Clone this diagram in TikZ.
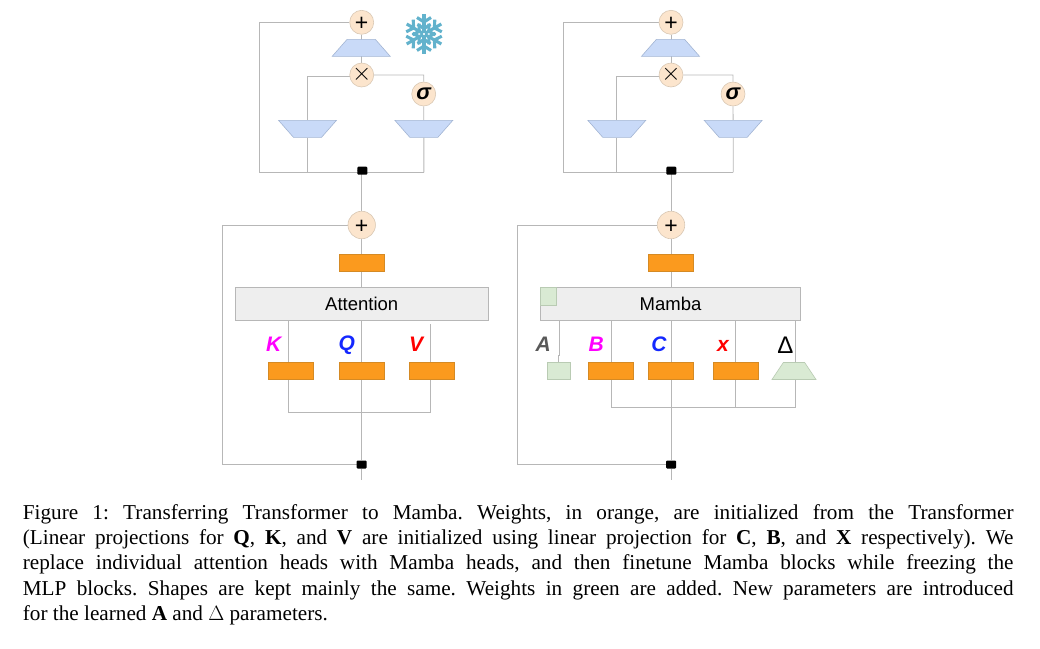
\documentclass[tikz,border=0pt]{standalone}
\usepackage{amsmath,amssymb}
\usepackage{fontspec}
\usepackage{xcolor}
\usetikzlibrary{shapes.geometric,backgrounds}
\setmainfont{Liberation Serif}
\newfontfamily\labelfont{Liberation Sans}
\newcommand{\opplus}{\raisebox{-8.1pt}{+}}
\newcommand{\optimes}{\raisebox{-5.7pt}{$\times$}}
\newcommand{\opsigma}{\raisebox{-5.5pt}{\fontsize{22}{22}\selectfont\bfseries\itshape σ}}
\definecolor{wireGray}{HTML}{B7B7B7}
\definecolor{peachFill}{HTML}{FCE5CD}
\definecolor{peachEdge}{HTML}{D9C8B4}
\definecolor{blueFill}{HTML}{C9DAF8}
\definecolor{blueEdge}{HTML}{A3B5D3}
\definecolor{orangeFill}{HTML}{FB9A1E}
\definecolor{orangeEdge}{HTML}{D58A24}
\definecolor{greenFill}{HTML}{D9EAD3}
\definecolor{greenEdge}{HTML}{B9CBB3}
\definecolor{boxFill}{HTML}{EEEEEE}
\definecolor{flakeBlue}{HTML}{62B2CC}
\definecolor{keyPink}{RGB}{255,0,255}
\definecolor{queryBlue}{RGB}{20,40,255}
\definecolor{valueRed}{RGB}{255,0,0}
\tikzset{
  wire/.style={draw=wireGray,line width=0.8pt},
  opsmall/.style={circle,draw=peachEdge,fill=peachFill,line width=0.6pt,minimum size=24pt,inner sep=0pt,text height=6pt,text depth=6pt,font=\labelfont\fontsize{23}{23}\selectfont},
  opbig/.style={opsmall,minimum size=27.5pt},
  mlpup/.style={trapezium,trapezium stretches=true,trapezium angle=62,draw=blueEdge,fill=blueFill,line width=0.6pt,minimum width=58pt,minimum height=17pt,inner sep=1pt},
  mlpdown/.style={mlpup,shape border rotate=180},
  deltagreen/.style={mlpup,draw=greenEdge,fill=greenFill,minimum width=44pt},
  weight/.style={rectangle,draw=orangeEdge,fill=orangeFill,line width=0.6pt,minimum width=45pt,minimum height=17.4pt,inner sep=0pt},
  added/.style={rectangle,draw=greenEdge,fill=greenFill,line width=0.6pt,minimum width=23.4pt,minimum height=17.4pt,inner sep=0pt},
  headbox/.style={rectangle,draw=wireGray,fill=boxFill,line width=0.8pt,minimum height=33pt,inner sep=0pt,font=\labelfont\fontsize{18.5}{18.5}\selectfont},
  junction/.style={rectangle,fill=black,rounded corners=1pt,minimum width=10pt,minimum height=8pt,inner sep=0pt},
  headname/.style={inner sep=0pt,font=\labelfont\bfseries\itshape\fontsize{21}{21}\selectfont},
  capline/.style={anchor=base west,inner sep=0pt,font=\fontsize{21.2}{25}\selectfont\frenchspacing},
  flake/.style={draw=flakeBlue,line width=3.1pt},
}
\begin{document}
\begin{tikzpicture}[x=1pt,y=-1pt]
\useasboundingbox (0,0) rectangle (1040,648);
% frozen block, left
\node[opsmall] (plusA) at (361.7,22.3) {\opplus};
\node[mlpup] (mlpA) at (361.2,47.8) {};
\node[opsmall] (timesA) at (361.7,75) {\optimes};
\node[opsmall] (sigmaA) at (423.7,94) {\opsigma};
\node[mlpdown] (leftA) at (307.5,128.8) {};
\node[mlpdown] (rightA) at (423.85,128.8) {};
\node[junction] (juncA) at (362.3,170.7) {};
\coordinate (loopAt) at (259.3,22.3);
\coordinate (loopAb) at (259.3,172.3);
\coordinate (turnAl) at (307.5,76);
\coordinate (turnAr) at (423.7,75);
\coordinate (footAr) at (423.85,172.3);
\coordinate (footAl) at (307.5,172.3);
% frozen block, right
\node[opsmall] (plusB) at (671,22.3) {\opplus};
\node[mlpup] (mlpB) at (670.5,47.8) {};
\node[opsmall] (timesB) at (671,75) {\optimes};
\node[opsmall] (sigmaB) at (733,94) {\opsigma};
\node[mlpdown] (leftB) at (616.8,128.8) {};
\node[mlpdown] (rightB) at (733.15,128.8) {};
\node[junction] (juncB) at (671.3,170.7) {};
\coordinate (loopBt) at (563.3,22.3);
\coordinate (loopBb) at (563.3,172.3);
\coordinate (turnBl) at (616.8,76);
\coordinate (turnBr) at (733,75);
\coordinate (footBr) at (733.15,172.3);
\coordinate (footBl) at (616.8,172.3);
% snowflake
\foreach \a in {30,90,...,330} {
  \begin{scope}[shift={(424,34)},rotate=\a]
    \draw[flake] (1,0)-- (20,0);
    \draw[flake] (5.5,0)-- (9.5,6.5);
    \draw[flake] (5.5,0)-- (9.5,-6.5);
    \draw[flake] (12,0)-- (16.5,7);
    \draw[flake] (12,0)-- (16.5,-7);
  \end{scope}
}
% attention block
\node[opbig] (plusC) at (361.7,225) {\opplus};
\node[weight] (outC) at (361.7,263) {};
\node[headbox,minimum width=253.4pt] (attn) at (361.7,303.8) {Attention};
\node[weight] (keyW) at (290.8,371) {};
\node[weight] (queryW) at (361.7,371) {};
\node[weight] (valueW) at (431.8,371) {};
\node[headname,text=keyPink] (keyL) at (273.7,344.3) {K};
\node[headname,text=queryBlue] (queryL) at (346.7,345.3) {Q};
\node[headname,text=valueRed] (valueL) at (416,344.3) {V};
\node[junction] (juncC) at (361.7,464.5) {};
\coordinate (keyT) at (288.7,320.3);
\coordinate (keyB) at (288.7,412);
\coordinate (valueT) at (430.3,324);
\coordinate (valueB) at (430.3,412);
\coordinate (loopCt) at (222.3,225);
\coordinate (loopCb) at (222.3,464.5);
\coordinate (exitC) at (361.7,480);
% mamba block
\node[opbig] (plusD) at (671,225) {\opplus};
\node[weight] (outD) at (671,263) {};
\node[headbox,minimum width=260.4pt] (mamba) at (670.5,303.8) {Mamba};
\node[added,minimum width=16.4pt,minimum height=18pt] (stateA) at (548.5,296.3) {};
\node[added] (addA) at (559,371) {};
\node[weight] (betaW) at (610.5,371) {};
\node[weight] (gammaW) at (671,371) {};
\node[weight] (xW) at (735.8,371) {};
\node[deltagreen] (deltaW) at (794,371) {};
\node[headname,text=black!65] (aL) at (543.3,344.5) {A};
\node[headname,text=keyPink] (bL) at (596.3,344.5) {B};
\node[headname,text=queryBlue] (cL) at (659,344.5) {C};
\node[headname,text=valueRed] (xL) at (723,345.5) {x};
\node[inner sep=0pt,font=\labelfont\fontsize{24}{24}\selectfont] (deltaL) at (785.3,345.5) {Δ};
\node[junction] (juncD) at (671,464.5) {};
\coordinate (aT) at (559.3,320.3);
\coordinate (aM) at (559.3,355.7);
\coordinate (aN) at (558.3,355.7);
\coordinate (bT) at (611.3,320.3);
\coordinate (bB) at (611.3,407.3);
\coordinate (xT) at (735.7,320.3);
\coordinate (xB) at (735.7,407.3);
\coordinate (dT) at (795.7,320.3);
\coordinate (dB) at (795.7,407.3);
\coordinate (loopDt) at (517.3,225);
\coordinate (loopDb) at (517.3,464.5);
\coordinate (exitD) at (671,480);
% connectors go behind the shapes
\begin{scope}[on background layer]
\draw[wire] (footAr)-- (loopAb)-- (loopAt)-- (plusA);
\draw[wire] (plusA)-- (plusA |- mlpA)-- (plusA |- timesA);
\draw[wire] (timesA |- turnAl)-- (turnAl)-- (leftA)-- (footAl);
\draw[wire] (timesA)-- (turnAr)-- (sigmaA)-- (rightA)-- (footAr);
\draw[wire] (footBr)-- (loopBb)-- (loopBt)-- (plusB);
\draw[wire] (plusB)-- (plusB |- mlpB)-- (plusB |- timesB);
\draw[wire] (timesB |- turnBl)-- (turnBl)-- (leftB)-- (footBl);
\draw[wire] (timesB)-- (turnBr)-- (sigmaB)-- (rightB)-- (footBr);
\draw[wire] (juncA)-- (plusC |- juncA)-- (plusC);
\draw[wire] (juncB)-- (plusD |- juncB)-- (plusD);
\draw[wire] (plusC)-- (outC)-- (attn);
\draw[wire] (attn)-- (queryW)-- (juncC)-- (exitC);
\draw[wire] (keyT)-- (keyB)-- (valueB)-- (valueT);
\draw[wire] (plusC)-- (loopCt)-- (loopCb)-- (juncC);
\draw[wire] (plusD)-- (outD)-- (mamba.center -| outD);
\draw[wire] (mamba.center -| outD)-- (gammaW)-- (juncD)-- (exitD);
\draw[wire] (aT)-- (aM)-- (aN)-- (aN |- addA.north);
\draw[wire] (bT)-- (bB)-- (dB)-- (dT);
\draw[wire] (xT)-- (xB);
\draw[wire] (plusD)-- (loopDt)-- (loopDb)-- (juncD);
\end{scope}
% caption
\node[capline] (capA) at (22.7,519.3) {\hbox to 990.6pt{Figure 1: Transferring Transformer to Mamba. Weights, in orange, are initialized from the Transformer}};
\node[capline] (capB) at (22.7,544.6) {\hbox to 990.6pt{(Linear projections for \textbf{Q}, \textbf{K}, and \textbf{V} are initialized using linear projection for \textbf{C}, \textbf{B}, and \textbf{X} respectively). We}};
\node[capline] (capC) at (22.7,569.9) {\hbox to 990.6pt{replace individual attention heads with Mamba heads, and then finetune Mamba blocks while freezing the}};
\node[capline] (capD) at (22.7,595.2) {\hbox to 990.6pt{MLP blocks. Shapes are kept mainly the same. Weights in green are added. New parameters are introduced}};
\node[capline] (capE) at (22.7,620.5) {for the learned \textbf{A} and $\Delta$ parameters.};
\end{tikzpicture}
\end{document}
